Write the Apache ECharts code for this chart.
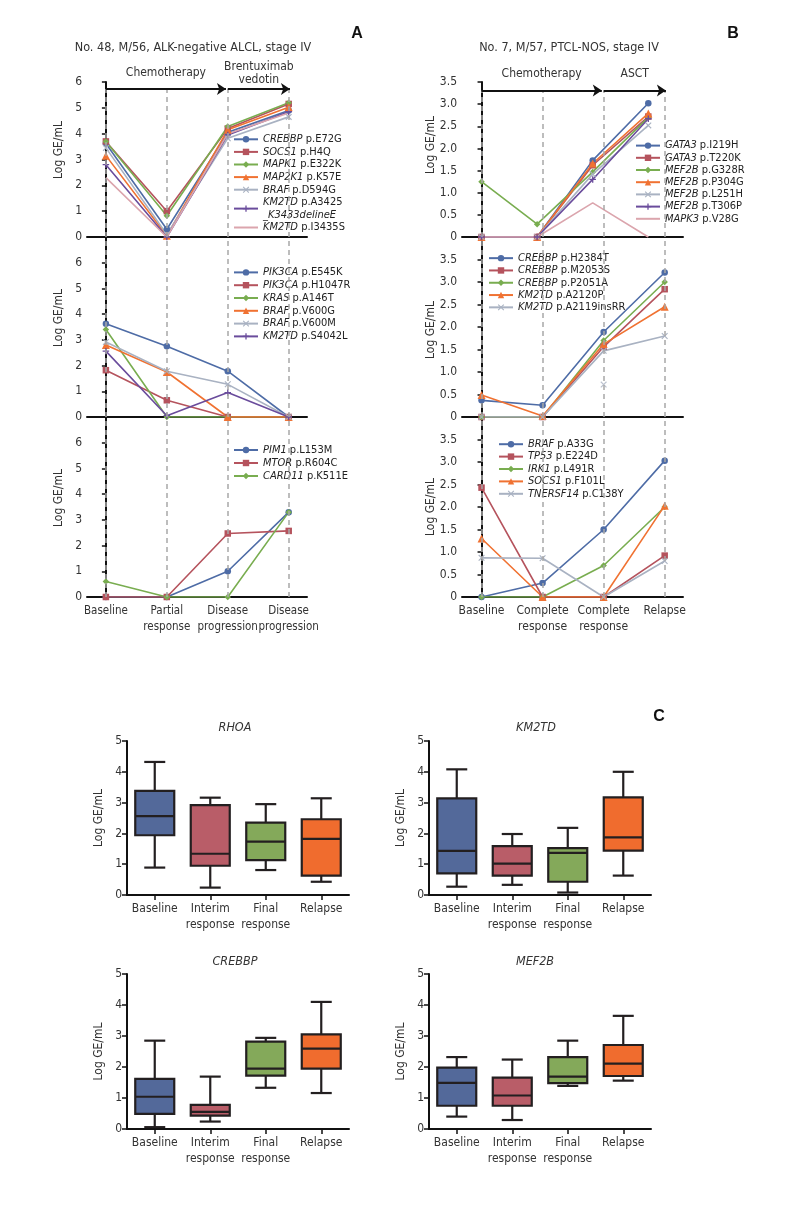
<!DOCTYPE html>
<html><head><meta charset="utf-8">
<script src="https://cdn.jsdelivr.net/npm/echarts@6/dist/echarts.min.js"></script>
<style>html,body{margin:0;padding:0;background:#fff}#c{width:790px;height:1212px}</style>
</head><body><div id="c"></div>
<script>
// ---------------- DATA ----------------
const catA = ['Baseline', 'Partial\nresponse', 'Disease\nprogression', 'Disease\nprogression'];
const catB = ['Baseline', 'Complete\nresponse', 'Complete\nresponse', 'Relapse'];
const catC = ['Baseline', 'Interim\nresponse', 'Final\nresponse', 'Relapse'];

const aTopGenes = ['CREBBP', 'SOCS1', 'MAPK1', 'MAP2K1', 'BRAF', 'KM2TD', 'KM2TD'];
const aTopVariants = ['p.E72G', 'p.H4Q', 'p.E322K', 'p.K57E', 'p.D594G', 'p.A3425\n_K3433delineE', 'p.I3435S'];
const aTopValues = [
  [3.62, 0.30, 4.05, 4.90],
  [3.70, 1.00, 4.20, 5.15],
  [3.70, 0.82, 4.28, 5.20],
  [3.15, 0.05, 4.15, 5.02],
  [3.45, 0.10, 3.82, 4.65],
  [2.80, 0.00, 3.95, 4.85],
  [2.30, 0.00, 4.00, 4.80]
];

const aMidGenes = ['PIK3CA', 'PIK3CA', 'KRAS', 'BRAF', 'BRAF', 'KM2TD'];
const aMidVariants = ['p.E545K', 'p.H1047R', 'p.A146T', 'p.V600G', 'p.V600M', 'p.S4042L'];
const aMidValues = [
  [3.63, 2.75, 1.78, 0.00],
  [1.82, 0.65, 0.00, 0.00],
  [3.40, 0.00, 0.00, 0.00],
  [2.80, 1.75, 0.00, 0.00],
  [2.92, 1.78, 1.27, 0.00],
  [2.56, 0.05, 0.95, 0.00]
];

const aBotGenes = ['PIM1', 'MTOR', 'CARD11'];
const aBotVariants = ['p.L153M', 'p.R604C', 'p.K511E'];
const aBotValues = [
  [0.00, 0.00, 1.00, 3.30],
  [0.00, 0.00, 2.47, 2.57],
  [0.60, 0.00, 0.00, 3.30]
];

const bTopGenes = ['GATA3', 'GATA3', 'MEF2B', 'MEF2B', 'MEF2B', 'MEF2B', 'MAPK3'];
const bTopVariants = ['p.I219H', 'p.T220K', 'p.G328R', 'p.P304G', 'p.L251H', 'p.T306P', 'p.V28G'];
const bTopValues = [
  [0.00, 0.00, 1.73, 3.02],
  [0.00, 0.00, 1.62, 2.72],
  [1.25, 0.29, 1.47, 2.70],
  [0.00, 0.00, 1.66, 2.79],
  [0.00, 0.00, 1.42, 2.52],
  [0.00, 0.00, 1.30, 2.67],
  [0.00, 0.00, 0.77, 0.00]
];

const bMidGenes = ['CREBBP', 'CREBBP', 'CREBBP', 'KM2TD', 'KM2TD'];
const bMidVariants = ['p.H2384T', 'p.M2053S', 'p.P2051A', 'p.A2120P', 'p.A2119insRR'];
const bMidValues = [
  [0.37, 0.26, 1.89, 3.21],
  [0.00, 0.00, 1.56, 2.84],
  [0.00, 0.00, 1.70, 3.00],
  [0.49, 0.02, 1.62, 2.45],
  [0.00, 0.00, 1.47, 1.80]
];
const bMidExtraPoint = [[2, 0.72]];

const bBotGenes = ['BRAF', 'TP53', 'IRK1', 'SOCS1', 'TNERSF14'];
const bBotVariants = ['p.A33G', 'p.E224D', 'p.L491R', 'p.F101L', 'p.C138Y'];
const bBotValues = [
  [0.00, 0.31, 1.50, 3.03],
  [2.43, 0.00, 0.00, 0.92],
  [0.00, 0.00, 0.70, 2.00],
  [1.30, 0.00, 0.00, 2.03],
  [0.87, 0.86, 0.00, 0.80]
];

// box plots: [min, Q1, median, Q3, max]
const rhoaBox = [[0.89, 1.94, 2.56, 3.38, 4.32], [0.24, 0.95, 1.34, 2.92, 3.16], [0.81, 1.13, 1.73, 2.35, 2.95], [0.43, 0.63, 1.82, 2.46, 3.14]];
const km2tdBox = [[0.27, 0.70, 1.43, 3.14, 4.08], [0.33, 0.63, 1.02, 1.59, 1.98], [0.08, 0.43, 1.37, 1.52, 2.18], [0.63, 1.44, 1.87, 3.17, 4.00]];
const crebbpBox = [[0.06, 0.49, 1.04, 1.62, 2.85], [0.24, 0.43, 0.55, 0.78, 1.69], [1.33, 1.72, 1.95, 2.82, 2.94], [1.16, 1.95, 2.59, 3.05, 4.10]];
const mef2bBox = [[0.40, 0.75, 1.49, 1.98, 2.32], [0.29, 0.75, 1.08, 1.66, 2.24], [1.39, 1.48, 1.69, 2.32, 2.85], [1.56, 1.71, 2.11, 2.71, 3.65]];

const yTicksA = [0, 1, 2, 3, 4, 5, 6];
const yTicksB = [0, 0.5, 1, 1.5, 2, 2.5, 3, 3.5];

// ---------------- STYLE ----------------
const FONT = '"Liberation Sans Narrow","Arial Narrow","DejaVu Sans Condensed","Liberation Sans",sans-serif';
const TXT = '#333';
const AX = '#111';
const lineColors = ['#4e6ca6', '#b5535d', '#79ad50', '#f07232', '#a9b2c2', '#6a4c9c', '#dba5ad'];
const PLUS = 'path://M4,0H6V4H10V6H6V10H4V6H0V4H4Z';
const CROSS = 'path://M1.2,0L5,3.8L8.8,0L10,1.2L6.2,5L10,8.8L8.8,10L5,6.2L1.2,10L0,8.8L3.8,5L0,1.2Z';
const symbols = ['circle', 'rect', 'diamond', 'triangle', CROSS, PLUS, 'none'];
const boxColors = ['#53699a', '#b95d68', '#84a95a', '#f06c2e'];
const FS = 12;      // axis text size
const LFS = 11;     // legend text size

// ---------------- LAYOUT ----------------
const grids = [
  { left: 87, width: 220, top: 82, height: 155 },
  { left: 87, width: 220, top: 237, height: 180 },
  { left: 87, width: 220, top: 417, height: 180 },
  { left: 462, width: 221, top: 82, height: 155 },
  { left: 462, width: 221, top: 237, height: 180 },
  { left: 462, width: 221, top: 417, height: 180 },
  { left: 127, width: 222, top: 741, height: 154 },
  { left: 429, width: 222, top: 741, height: 154 },
  { left: 127, width: 222, top: 974, height: 155 },
  { left: 429, width: 222, top: 974, height: 155 },
  // label-only grids (category centres of panels A and B)
  { left: 105.9, width: 182.7, top: 417, height: 180 },
  { left: 481.5, width: 183.2, top: 417, height: 180 }
];

function lineX(gi, min, max) {
  return {
    type: 'value', gridIndex: gi, min: min, max: max,
    axisLine: { show: true, onZero: false, lineStyle: { color: AX, width: 2 } },
    axisTick: { show: false }, splitLine: { show: false }, axisLabel: { show: false }
  };
}
function labelX(gi, cats, fs) {
  return {
    type: 'category', gridIndex: gi, data: cats, boundaryGap: false,
    axisLine: { show: false }, axisTick: { show: false }, splitLine: { show: false },
    axisLabel: { interval: 0, color: TXT, fontSize: fs, lineHeight: 16, margin: 6, fontFamily: FONT, hideOverlap: false }
  };
}
function lineY(gi, max, interval, fmt) {
  return {
    type: 'value', gridIndex: gi, min: 0, max: max, interval: interval,
    axisLine: { show: true, lineStyle: { color: AX, width: 2 } },
    axisTick: { show: true, length: 4, lineStyle: { color: AX, width: 1.5 } },
    splitLine: { show: false },
    axisLabel: { color: TXT, fontSize: FS, margin: 5, fontFamily: FONT, formatter: fmt }
  };
}
const fmtA = v => (yTicksA.indexOf(v) >= 0 ? String(v) : '');
const fmtB = v => (yTicksB.indexOf(v) >= 0 ? (v === 0 ? '0' : v.toFixed(1)) : '');

const xAxes = [
  lineX(0, -0.31, 3.3), lineX(1, -0.31, 3.3), lineX(2, -0.31, 3.3),
  lineX(3, -0.32, 3.3), lineX(4, -0.32, 3.3), lineX(5, -0.32, 3.3),
  { type: 'value', gridIndex: 3, min: -0.351, max: 3.624, show: false }
];
const yAxes = [
  lineY(0, 6, 1, fmtA), lineY(1, 7, 1, fmtA), lineY(2, 7, 1, fmtA),
  lineY(3, 3.5, 0.5, fmtB), lineY(4, 4, 0.5, fmtB), lineY(5, 4, 0.5, fmtB)
];
[6, 7, 8, 9].forEach(gi => {
  xAxes.push({
    type: 'category', gridIndex: gi, data: catC, boundaryGap: true,
    axisLine: { show: true, lineStyle: { color: AX, width: 2 } },
    axisTick: { show: true, alignWithLabel: true, length: 5, lineStyle: { color: AX, width: 1.5 } },
    axisLabel: { color: TXT, fontSize: FS, lineHeight: 16, margin: 6, fontFamily: FONT, interval: 0 }
  });
  yAxes.push({
    type: 'value', gridIndex: gi, min: 0, max: 5, interval: 1,
    name: 'Log GE/mL', nameLocation: 'middle', nameGap: 22,
    nameTextStyle: { color: TXT, fontSize: FS, fontFamily: FONT },
    axisLine: { show: true, lineStyle: { color: AX, width: 2 } },
    axisTick: { show: true, length: 5, lineStyle: { color: AX, width: 1.5 } },
    splitLine: { show: false },
    axisLabel: { color: TXT, fontSize: FS, margin: 5, fontFamily: FONT }
  });
});
// label axes (x 11, 12) and their hidden y axes (10, 11)
xAxes.push(labelX(10, catA, 11.5), labelX(11, catB, FS));
yAxes.push({ type: 'value', gridIndex: 10, show: false, min: 0, max: 1 }, { type: 'value', gridIndex: 11, show: false, min: 0, max: 1 });

const series = [];
const legends = [];

function guideSeries(xi, yi, top) {
  series.push({
    type: 'line', xAxisIndex: xi, yAxisIndex: yi, data: [], silent: true, z: 1,
    markLine: {
      silent: true, symbol: 'none', animation: false, label: { show: false },
      lineStyle: { color: '#a8a8a8', type: [5, 4], width: 1.5 },
      data: [0, 1, 2, 3].map(i => [{ coord: [i, 0] }, { coord: [i, top] }])
    }
  });
}
function arrowSeries(xi, yi, yv, arrows) {
  series.push({
    type: 'line', xAxisIndex: xi, yAxisIndex: yi, data: [], silent: true, z: 2,
    markLine: {
      silent: true, symbol: ['none', 'arrow'], symbolSize: 9, animation: false,
      lineStyle: { color: '#111', type: 'solid', width: 2 },
      data: arrows.map(a => [
        { coord: [a.from, yv], label: { show: true, position: 'middle', formatter: a.text, distance: a.dist, color: TXT, fontSize: FS, lineHeight: 13, fontFamily: FONT } },
        { coord: [a.to, yv] }
      ])
    }
  });
}
function panelSeries(xi, yi, genes, variants, values, legendPos) {
  const names = [];
  genes.forEach((g, k) => {
    const name = g + ' ' + variants[k];
    const noMark = symbols[k] === 'none';
    names.push(name);
    series.push({
      type: 'line', name: name, xAxisIndex: xi, yAxisIndex: yi, z: 3,
      data: values[k].map((v, i) => [i, v]),
      symbol: noMark ? 'circle' : symbols[k],
      symbolSize: symbols[k] === 'triangle' ? 8 : 6.5,
      showSymbol: !noMark,
      lineStyle: { width: 1.6, color: lineColors[k] },
      itemStyle: { color: lineColors[k], opacity: noMark ? 0 : 1 },
      animation: false
    });
  });
  legends.push({
    data: names, orient: 'vertical', left: legendPos.left, top: legendPos.top,
    padding: 0, itemGap: 0, itemWidth: 24, itemHeight: 8, selectedMode: false,
    textStyle: {
      color: '#222', fontSize: LFS, lineHeight: legendPos.lh, fontFamily: FONT,
      rich: {
        g: { fontStyle: 'italic', fontSize: LFS, lineHeight: legendPos.lh, fontFamily: FONT, color: '#222' },
        v: { fontSize: LFS, lineHeight: legendPos.lh, fontFamily: FONT, color: '#222' }
      }
    },
    formatter: name => {
      const sp = name.indexOf(' ');
      const g = name.slice(0, sp), v = name.slice(sp + 1);
      const parts = v.split('\n');
      let s = '{g|' + g + '} {v|' + parts[0] + '}';
      if (parts[1]) s += '\n{g|' + parts[1] + '}';
      return s;
    }
  });
}

// Panel A
guideSeries(0, 0, 5.73); guideSeries(1, 1, 7); guideSeries(2, 2, 7);
arrowSeries(0, 0, 5.73, [
  { from: 0, to: 1.97, text: 'Chemotherapy', dist: 10 },
  { from: 2.0, to: 3.02, text: 'Brentuximab\nvedotin', dist: 3 }
]);
panelSeries(0, 0, aTopGenes, aTopVariants, aTopValues, { left: 233, top: 133, lh: 12.6 });
panelSeries(1, 1, aMidGenes, aMidVariants, aMidValues, { left: 233, top: 266, lh: 12.8 });
panelSeries(2, 2, aBotGenes, aBotVariants, aBotValues, { left: 233, top: 443.5, lh: 13 });

// Panel B
guideSeries(3, 3, 3.31); guideSeries(4, 4, 4); guideSeries(5, 5, 4);
arrowSeries(3, 3, 3.31, [
  { from: 0, to: 1.97, text: 'Chemotherapy', dist: 10 },
  { from: 2.0, to: 3.02, text: 'ASCT', dist: 10 }
]);
panelSeries(6, 3, bTopGenes, bTopVariants, bTopValues, { left: 635, top: 139.5, lh: 12.2 });
panelSeries(4, 4, bMidGenes, bMidVariants, bMidValues, { left: 488, top: 252, lh: 12.3 });
series.push({
  type: 'scatter', name: 'extra', xAxisIndex: 4, yAxisIndex: 4, z: 3, data: bMidExtraPoint,
  symbol: CROSS, symbolSize: 6.5, itemStyle: { color: lineColors[4] }, animation: false
});
panelSeries(5, 5, bBotGenes, bBotVariants, bBotValues, { left: 498, top: 438, lh: 12.4 });

// Panel C
function boxSeries(xi, yi, data) {
  series.push({
    type: 'custom', xAxisIndex: xi, yAxisIndex: yi, animation: false,
    data: data.map((d, i) => [i].concat(d)),
    encode: { x: 0, y: [1, 2, 3, 4, 5] },
    renderItem: (params, api) => {
      const i = api.value(0);
      const p = [1, 2, 3, 4, 5].map(k => api.coord([i, api.value(k)]));
      const cx = p[0][0], bw = 39, cw = 21;
      const st = { stroke: '#231f20', lineWidth: 2.2 };
      return {
        type: 'group', children: [
          { type: 'line', shape: { x1: cx, y1: p[4][1], x2: cx, y2: p[3][1] }, style: st },
          { type: 'line', shape: { x1: cx, y1: p[1][1], x2: cx, y2: p[0][1] }, style: st },
          { type: 'line', shape: { x1: cx - cw / 2, y1: p[4][1], x2: cx + cw / 2, y2: p[4][1] }, style: st },
          { type: 'line', shape: { x1: cx - cw / 2, y1: p[0][1], x2: cx + cw / 2, y2: p[0][1] }, style: st },
          { type: 'rect', shape: { x: cx - bw / 2, y: p[3][1], width: bw, height: p[1][1] - p[3][1] }, style: { fill: boxColors[i], stroke: '#231f20', lineWidth: 2.2 } },
          { type: 'line', shape: { x1: cx - bw / 2, y1: p[2][1], x2: cx + bw / 2, y2: p[2][1] }, style: st }
        ]
      };
    }
  });
}
boxSeries(7, 6, rhoaBox); boxSeries(8, 7, km2tdBox); boxSeries(9, 8, crebbpBox); boxSeries(10, 9, mef2bBox);

// ---------------- TEXTS ----------------
function txt(x, y, text, opt) {
  opt = opt || {};
  return {
    type: 'text', x: x, y: y, rotation: opt.rot || 0, silent: true,
    style: {
      text: text, fill: opt.color || TXT, textAlign: 'center', textVerticalAlign: 'middle',
      align: 'center', verticalAlign: 'middle',
      font: (opt.italic ? 'italic ' : '') + (opt.bold ? 'bold ' : '') + (opt.size || 13) + 'px ' + (opt.family || FONT)
    }
  };
}
const R = Math.PI / 2;
const BOLD = '"Liberation Sans",Arial,sans-serif';
const graphics = [
  txt(193, 48, 'No. 48, M/56, ALK-negative ALCL, stage IV', { size: 12.5 }),
  txt(569, 48, 'No. 7, M/57, PTCL-NOS, stage IV', { size: 12.5 }),
  txt(357, 34, 'A', { bold: true, size: 16, color: '#111', family: BOLD }),
  txt(733, 34, 'B', { bold: true, size: 16, color: '#111', family: BOLD }),
  txt(659, 717, 'C', { bold: true, size: 16, color: '#111', family: BOLD }),
  txt(235, 728, 'RHOA', { italic: true, size: 12.5 }),
  txt(536, 728, 'KM2TD', { italic: true, size: 12.5 }),
  txt(235, 962, 'CREBBP', { italic: true, size: 12.5 }),
  txt(535, 962, 'MEF2B', { italic: true, size: 12.5 }),
  txt(59, 150, 'Log GE/mL', { rot: R, size: FS }),
  txt(59, 318, 'Log GE/mL', { rot: R, size: FS }),
  txt(59, 498, 'Log GE/mL', { rot: R, size: FS }),
  txt(431, 145, 'Log GE/mL', { rot: R, size: FS }),
  txt(431, 330, 'Log GE/mL', { rot: R, size: FS }),
  txt(431, 507, 'Log GE/mL', { rot: R, size: FS })
];

const chart = echarts.init(document.getElementById('c'), null, { renderer: 'canvas' });
chart.setOption({
  backgroundColor: '#fff',
  animation: false,
  textStyle: { fontFamily: FONT },
  grid: grids,
  xAxis: xAxes,
  yAxis: yAxes,
  legend: legends,
  series: series,
  graphic: graphics
});
</script></body></html>
